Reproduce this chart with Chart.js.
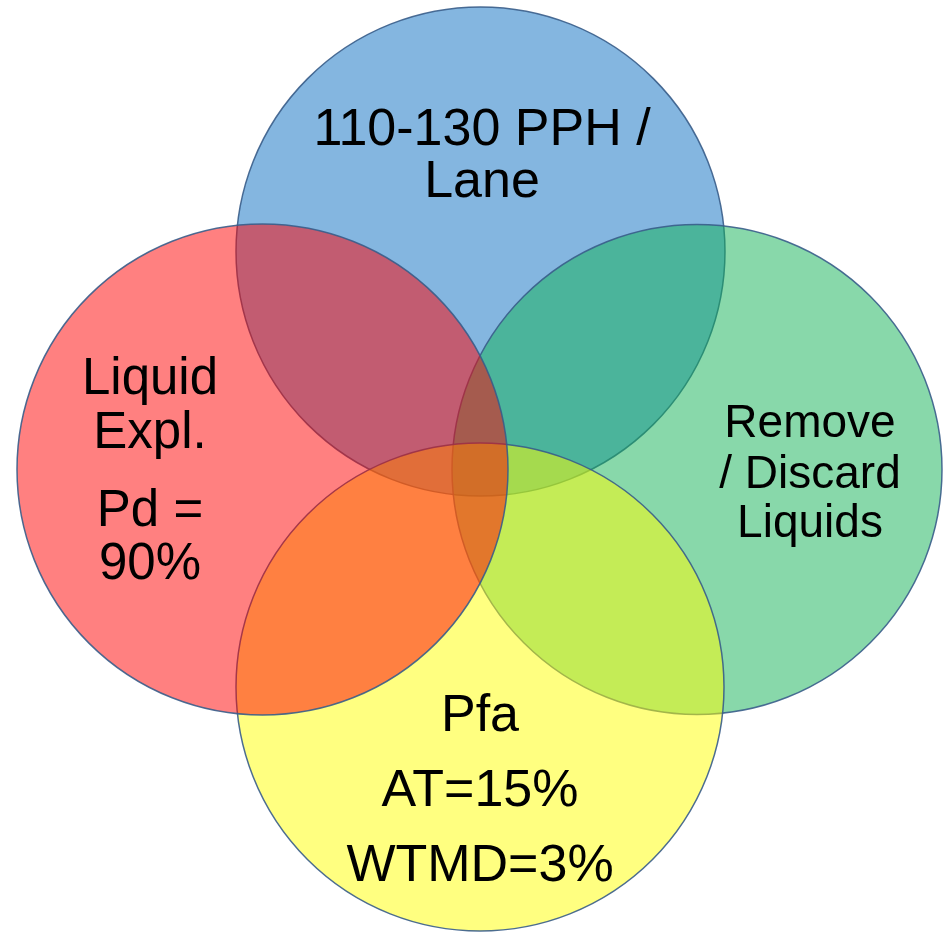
<!DOCTYPE html>
<html>
<head>
<meta charset="utf-8">
<script src="https://cdn.jsdelivr.net/npm/chart.js@4"></script>
<style>
  html, body { margin: 0; padding: 0; background: #fff; }
  #wrap { width: 951px; height: 934px; position: relative; }
</style>
</head>
<body>
<div id="wrap"><canvas id="venn"></canvas></div>
<script>
// circles, bottom to top: blue, green, yellow, red
const circleNames = ["PPH", "Remove", "Pfa", "Liquid"];
const circleX = [480.5, 697, 480, 262.5];
const circleY = [251.5, 469.5, 687, 469.5];
const circleR = [244.5, 245, 244, 245.5];

// text inside each circle
const pphLines = ["110-130 PPH /", "Lane"];
const removeLines = ["Remove", "/ Discard", "Liquids"];
const pfaLines = ["Pfa", "AT=15%", "WTMD=3%"];
const liquidLines = ["Liquid", "Expl.", "Pd =", "90%"];

const fillColors = [
  "rgba(9, 109, 193, 0.5)",
  "rgba(17, 177, 85, 0.5)",
  "rgba(255, 255, 1, 0.5)",
  "rgba(255, 1, 1, 0.5)",
];

// where the text blocks go (x centre, baseline of each line)
const labelBlocks = [
  { lines: pphLines, x: 482, baselines: [145, 197], size: 52 },
  { lines: removeLines, x: 810, baselines: [437, 488, 537], size: 46 },
  { lines: pfaLines, x: 480, baselines: [731, 806, 881], size: 52 },
  { lines: liquidLines, x: 150, baselines: [394, 448, 526, 579], size: 51 },
];

const textPlugin = {
  id: "vennText",
  afterDatasetsDraw(chart) {
    const ctx = chart.ctx;
    const xs = chart.scales.x;
    const ys = chart.scales.y;
    ctx.save();
    ctx.fillStyle = "#000";
    ctx.textAlign = "center";
    ctx.textBaseline = "alphabetic";
    labelBlocks.forEach((b) => {
      ctx.font = `${b.size}px "Liberation Sans", Arial, sans-serif`;
      b.lines.forEach((line, i) => {
        ctx.fillText(line, xs.getPixelForValue(b.x), ys.getPixelForValue(b.baselines[i]));
      });
    });
    ctx.restore();
  },
};

const bgPlugin = {
  id: "bg",
  beforeDraw(chart) {
    const ctx = chart.ctx;
    ctx.save();
    ctx.fillStyle = "#fff";
    ctx.fillRect(0, 0, chart.width, chart.height);
    ctx.restore();
  },
};

new Chart(document.getElementById("venn"), {
  type: "bubble",
  data: {
    labels: circleNames,
    datasets: [
      {
        data: circleX.map((x, i) => ({ x: x, y: circleY[i], r: circleR[i] })),
        backgroundColor: fillColors,
        borderColor: "rgba(56, 93, 138, 0.9)",
        borderWidth: 1.5,
        clip: false,
      },
    ],
  },
  options: {
    responsive: true,
    maintainAspectRatio: false,
    animation: false,
    events: [],
    layout: { padding: 0, autoPadding: false },
    scales: {
      x: { type: "linear", min: 0, max: 951, display: false },
      y: { type: "linear", min: 0, max: 934, reverse: true, display: false },
    },
    plugins: {
      legend: { display: false },
      tooltip: { enabled: false },
    },
  },
  plugins: [bgPlugin, textPlugin],
});
</script>
</body>
</html>
